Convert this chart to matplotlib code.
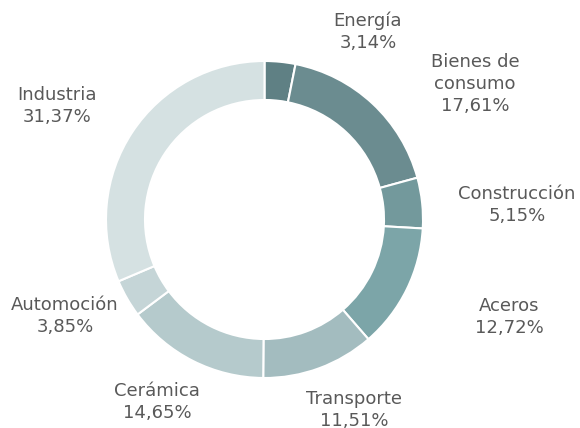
import matplotlib
matplotlib.use("Agg")
import matplotlib.pyplot as plt

categories = ["Energía", "Bienes de\nconsumo", "Construcción", "Aceros", "Transporte",
              "Cerámica", "Automoción", "Industria"]
values = [3.14, 17.61, 5.15, 12.72, 11.51, 14.65, 3.85, 31.37]
value_labels = ["3,14%", "17,61%", "5,15%", "12,72%", "11,51%", "14,65%", "3,85%", "31,37%"]
colors = ["#5f8084", "#6b8c90", "#73999c", "#7ca5a8", "#a3bcbf", "#b5cacc", "#c5d5d7", "#d5e1e2"]

# label anchor positions (pixels in the 580x428 image)
label_px = [(368, 32), (475, 84), (517, 205), (509, 317), (354, 410),
            (157, 402), (65, 316), (57, 106)]

W, H = 580, 428
cx, cy, R = 264.5, 219.5, 158.5

fig = plt.figure(figsize=(W / 100, H / 100), dpi=100)
ax = fig.add_axes([0, 0, 1, 1])
ax.pie(values, colors=colors, startangle=90, counterclock=False, radius=1.0,
       wedgeprops=dict(width=0.246, edgecolor="white", linewidth=1.5))
ax.set_xlim(-cx / R, (W - cx) / R)
ax.set_ylim(-(H - cy) / R, cy / R)
ax.set_aspect("auto")
ax.axis("off")

for cat, lab, (px, py) in zip(categories, value_labels, label_px):
    ax.text((px - cx) / R, (cy - py) / R, f"{cat}\n{lab}", ha="center", va="center",
            fontsize=13, color="#595959", linespacing=1.3, family="DejaVu Sans")

fig.savefig("out.png", dpi=100, facecolor="white")
